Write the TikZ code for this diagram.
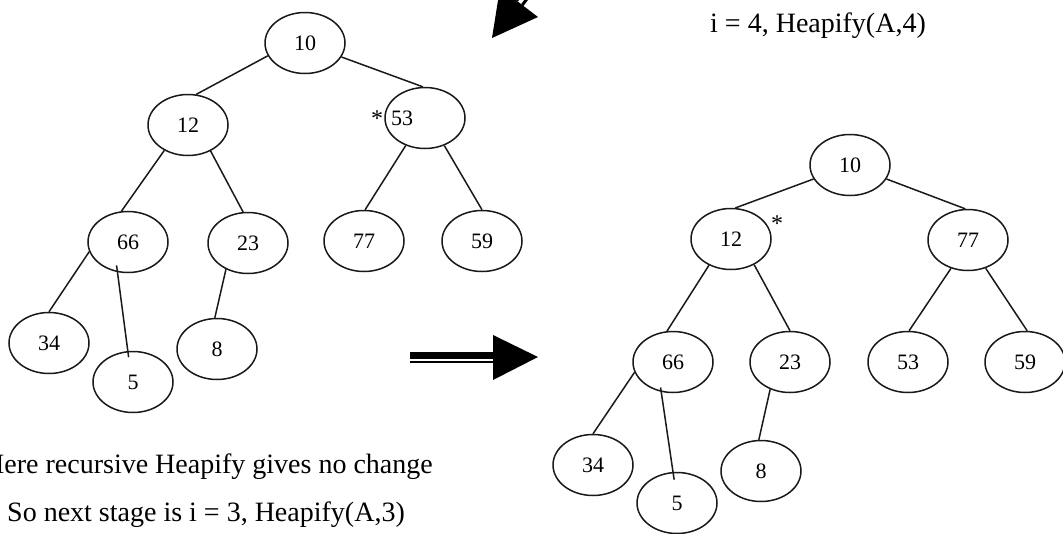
\documentclass[tikz,border=0pt]{standalone}
\usepackage{fontspec}
\setmainfont{Liberation Serif}
\usetikzlibrary{shapes.geometric,calc}
\begin{document}
\begin{tikzpicture}[x=1pt,y=-1pt,
  heapnode/.style={ellipse,draw=black!90,line width=1.5pt,minimum width=80pt,
    minimum height=61pt,inner sep=0pt,font=\fontsize{22}{26}\selectfont},
  treeline/.style={draw=black!90,line width=1.5pt},
  caption/.style={anchor=base west,inner sep=0pt,font=\fontsize{28}{34}\selectfont},
  starmark/.style={anchor=base west,inner sep=0pt,font=\fontsize{24}{28}\selectfont},
  numtext/.style={inner sep=0pt,font=\fontsize{22}{26}\selectfont}]
\useasboundingbox (0,0) rectangle (1063,533);
\clip (0,0) rectangle (1063,533);

% ---- heap before Heapify(A,3) ----
\node[heapnode] (L10) at (305,43)  {10};
\node[heapnode] (L12) at (188,125) {12};
\node[heapnode] (L53) at (425,118) {};
\node[numtext]  (t53) at (402,118) {53};
\node[starmark] (s53) at (371,126) {*};
\node[heapnode] (L66) at (128,242) {66};
\node[heapnode] (L23) at (248,243) {23};
\node[heapnode] (L77) at (364,241) {77};
\node[heapnode] (L59) at (482,241) {59};
\node[heapnode] (L34) at (49,343)  {34};
\node[heapnode] (L5)  at (133,382) {5};
\node[heapnode] (L8)  at (217,349) {8};

\draw[treeline] (L10.199) -- (L12.75);
\draw[treeline] (L10.339) -- (L53.94);
\draw[treeline] (L12.227) -- (L66.102);
\draw[treeline] (L12.311) -- (L23.99);
\draw[treeline] (L53.235) -- (L77.88);
\draw[treeline] (L53.305) -- (L59.90);
\draw[treeline] (L66.194) -- (L34.90);
\draw[treeline] ($(L66.center)!0.8!(L66.244)$) -- ($(L5.center)!0.8!(L5.100)$);
\draw[treeline] (L23.230) -- (L8.94);

% ---- heap after Heapify(A,4) ----
\node[heapnode] (R10) at (850,165) {10};
\node[heapnode] (R12) at (731,239) {12};
\node[starmark] (s12) at (771,231) {*};
\node[heapnode] (R77) at (968,240) {77};
\node[heapnode] (R66) at (673,362) {66};
\node[heapnode] (R23) at (790,362) {23};
\node[heapnode] (R53) at (908,362) {53};
\node[heapnode] (R59) at (1025,362) {59};
\node[heapnode] (R34) at (593,465) {34};
\node[heapnode] (R5)  at (677,503) {5};
\node[heapnode] (R8)  at (761,471) {8};

\draw[treeline] (R10.201) -- (R12.82);
\draw[treeline] (R10.339) -- (R77.95);
\draw[treeline] (R12.230) -- (R66.101);
\draw[treeline] (R12.312) -- (R23.90);
\draw[treeline] (R77.239) -- (R53.88);
\draw[treeline] (R77.302) -- (R59.86);
\draw[treeline] (R66.195) -- (R34.90);
\draw[treeline] ($(R66.center)!0.87!(R66.244)$) -- ($(R5.center)!0.75!(R5.97)$);
\draw[treeline] (R23.234) -- (R8.94);

% ---- block arrows: a thick bar and a thin rule behind a triangular head ----
\fill (410,352) rectangle (494,359);
\fill (410,361) rectangle (494,363);
\fill (493,335) -- (538,357) -- (493,380) -- cycle;

\fill (492,38) -- (500,-12) -- (538,17) -- cycle;
\draw[line width=7pt] (515.0,-0.5) -- (539.2,-32.3);
\draw[line width=3pt] (522.3,5.0) -- (546.5,-26.8);

% ---- captions ----
\node[caption] (stage4) at (710,32) {i = 4, Heapify(A,4)};
\node[caption] (note1) at (-16,473) {Here recursive Heapify gives no change};
\node[caption] (note2) at (7,521) {So next stage is i = 3, Heapify(A,3)};
\end{tikzpicture}
\end{document}
